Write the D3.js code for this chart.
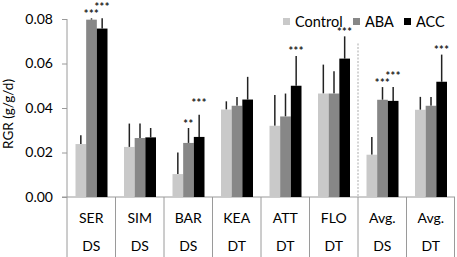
<!DOCTYPE html>
<html>
<head>
<meta charset="utf-8">
<script src="https://cdn.jsdelivr.net/npm/d3@7"></script>
<style>
    body { margin: 0; background: #fff; }
    svg { display: block; font-family: Lato, "Open Sans", sans-serif; }
</style>
</head>
<body>
<div id="chart"></div>
<script>
// plant names and their DS / DT group
const categories = ["SER", "SIM", "BAR", "KEA", "ATT", "FLO", "Avg. DS", "Avg. DT"];
const names = ["SER", "SIM", "BAR", "KEA", "ATT", "FLO", "Avg.", "Avg."];
const groups = ["DS", "DS", "DS", "DT", "DT", "DT", "DS", "DT"];
const series = ["Control", "ABA", "ACC"];
const colors = ["#c9c9c9", "#878787", "#000000"];

// mean RGR (g/g/d)
const control = [0.0238, 0.0225, 0.0103, 0.0393, 0.0320, 0.0465, 0.0190, 0.0392];
const aba     = [0.0797, 0.0265, 0.0243, 0.0410, 0.0362, 0.0465, 0.0437, 0.0410];
const acc     = [0.0757, 0.0268, 0.0270, 0.0438, 0.0500, 0.0622, 0.0432, 0.0518];

// error bar (upper only)
const controlErr = [0.0040, 0.0105, 0.0097, 0.0037, 0.0138, 0.0130, 0.0080, 0.0058];
const abaErr     = [0.0006, 0.0065, 0.0067, 0.0040, 0.0103, 0.0100, 0.0057, 0.0040];
const accErr     = [0.0046, 0.0042, 0.0100, 0.0102, 0.0134, 0.0100, 0.0062, 0.0122];

// significance marks
const controlSig = ["", "", "", "", "", "", "", ""];
const abaSig     = ["***", "", "**", "", "", "", "***", ""];
const accSig     = ["***", "", "***", "", "***", "***", "***", "***"];

const yTicks = [0, 0.02, 0.04, 0.06, 0.08];

const width = 457, height = 257;
const margin = { top: 19, right: 2, bottom: 60, left: 67 };
const plotBottom = height - margin.bottom;

const svg = d3.select("#chart").append("svg")
    .attr("width", width)
    .attr("height", height);

const x = d3.scaleBand()
    .domain(categories)
    .range([margin.left, width - margin.right])
    .padding(0);

const x1 = d3.scaleBand()
    .domain(series)
    .range([8.5, x.bandwidth() - 8])
    .padding(0);

const y = d3.scaleLinear()
    .domain([0, 0.08])
    .range([plotBottom, margin.top]);

const axisColor = "#9a9a9a";

// y axis
const yAxis = svg.append("g")
    .attr("transform", `translate(${margin.left},0)`)
    .call(d3.axisLeft(y).tickValues(yTicks).tickFormat(d3.format(".2f")).tickSize(5).tickPadding(9));
yAxis.select(".domain").remove();
yAxis.selectAll("line").attr("stroke", axisColor);
yAxis.selectAll("text")
    .attr("fill", "#000")
    .style("font-size", "14px")
    .style("font-family", "Lato, sans-serif");

svg.append("line")
    .attr("x1", margin.left).attr("x2", margin.left)
    .attr("y1", margin.top).attr("y2", height)
    .attr("stroke", axisColor);

svg.append("text")
    .attr("transform", `translate(13,${(margin.top + plotBottom) / 2 + 6}) rotate(-90)`)
    .attr("text-anchor", "middle")
    .style("font-size", "13.5px")
    .text("RGR (g/g/d)");

// x axis baseline and category separators
svg.append("line")
    .attr("x1", margin.left - 5).attr("x2", width - margin.right)
    .attr("y1", plotBottom).attr("y2", plotBottom)
    .attr("stroke", axisColor);

svg.selectAll(".sep")
    .data(categories.slice(1).concat(["end"]))
    .enter().append("line")
    .attr("class", "sep")
    .attr("x1", d => d === "end" ? x.range()[1] - 0.5 : x(d))
    .attr("x2", d => d === "end" ? x.range()[1] - 0.5 : x(d))
    .attr("y1", plotBottom)
    .attr("y2", height)
    .attr("stroke", axisColor);

// dotted divider before the averages
svg.append("line")
    .attr("x1", x("Avg. DS")).attr("x2", x("Avg. DS"))
    .attr("y1", y(0.069)).attr("y2", plotBottom)
    .attr("stroke", "#aaa")
    .attr("stroke-dasharray", "2,1.5");

const labels = svg.append("g").style("font-size", "14px").attr("text-anchor", "middle");
categories.forEach((c, i) => {
    labels.append("text")
        .attr("x", x(c) + x.bandwidth() / 2)
        .attr("y", 223)
        .text(names[i]);
    labels.append("text")
        .attr("x", x(c) + x.bandwidth() / 2)
        .attr("y", 251)
        .text(groups[i]);
});

// bars
const rows = categories.map((c, i) => ({
    cat: c,
    vals: [
        { s: "Control", v: control[i], e: controlErr[i], sig: controlSig[i] },
        { s: "ABA", v: aba[i], e: abaErr[i], sig: abaSig[i] },
        { s: "ACC", v: acc[i], e: accErr[i], sig: accSig[i] }
    ]
}));

const color = d3.scaleOrdinal().domain(series).range(colors);

const g = svg.selectAll(".grp")
    .data(rows)
    .enter().append("g")
    .attr("class", "grp")
    .attr("transform", d => `translate(${x(d.cat)},0)`);

// error bars first so the bar covers the lower part
g.selectAll(".err")
    .data(d => d.vals)
    .enter().append("line")
    .attr("x1", d => x1(d.s) + x1.bandwidth() / 2)
    .attr("x2", d => x1(d.s) + x1.bandwidth() / 2)
    .attr("y1", d => y(d.v))
    .attr("y2", d => y(d.v + d.e))
    .attr("stroke", "#222")
    .attr("stroke-width", 1.5);

g.selectAll("rect")
    .data(d => d.vals)
    .enter().append("rect")
    .attr("x", d => x1(d.s))
    .attr("y", d => y(d.v))
    .attr("width", x1.bandwidth())
    .attr("height", d => plotBottom - y(d.v))
    .attr("fill", d => color(d.s));

// stars, raised when the neighbour also has stars
g.selectAll(".sig")
    .data(d => d.vals.map((v, j) => ({ ...v, lift: j > 0 && d.vals[j - 1].sig ? 7 : 0 })))
    .enter().append("text")
    .attr("x", d => x1(d.s) + x1.bandwidth() / 2)
    .attr("y", d => y(d.v + d.e) - 0.5 - d.lift)
    .attr("text-anchor", "middle")
    .style("font-size", "11px")
    .style("font-weight", "bold")
    .style("letter-spacing", "0.5px")
    .attr("fill", "#222")
    .text(d => d.sig);

// legend
const legendX = [283, 353, 404];
const legend = svg.append("g");
series.forEach((s, i) => {
    legend.append("rect")
        .attr("x", legendX[i]).attr("y", 18)
        .attr("width", 7).attr("height", 7)
        .attr("fill", color(s));
    legend.append("text")
        .attr("x", legendX[i] + 12)
        .attr("y", 27)
        .style("font-size", "14.5px")
        .text(s);
});
</script>
</body>
</html>
